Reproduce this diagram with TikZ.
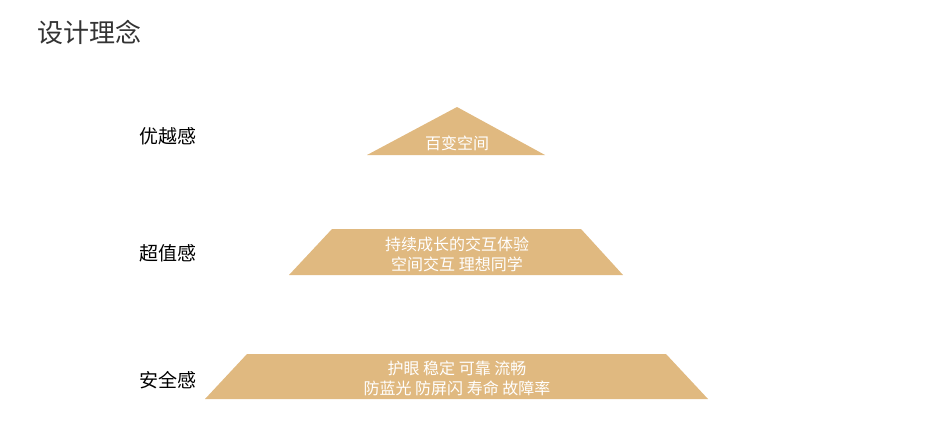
\documentclass[tikz,border=0pt]{standalone}
\usepackage{fontspec}
\newfontfamily\cjk{Noto Sans CJK SC}
\definecolor{tan}{RGB}{224,185,128}
\definecolor{titlegray}{RGB}{51,51,51}
\begin{document}
\begin{tikzpicture}[x=1pt,y=-1pt,
  tier/.style={fill=tan,draw=none},
  intext/.style={text=white,font=\cjk\fontsize{16}{20}\selectfont,align=center,inner sep=0pt},
  side/.style={text=black,font=\cjk\fontsize{19}{22}\selectfont,inner sep=0pt},
  ttl/.style={text=titlegray,font=\cjk\fontsize{26}{30}\selectfont,inner sep=0pt,anchor=west}]
\useasboundingbox (0,0) rectangle (947,431);
\node[ttl] (title) at (37,32) {设计理念};
% tiers
\path[tier] (457,107) -- (545,155) -- (367,155) -- cycle;
\path[tier] (332,229) -- (581,229) -- (623,275) -- (289,275) -- cycle;
\path[tier] (247,354) -- (666,354) -- (708,399) -- (205,399) -- cycle;
% inner texts
\node[intext] (t1) at (457,143) {百变空间};
\node[intext] (t2) at (457,254) {持续成长的交互体验\\空间交互 理想同学};
\node[intext] (t3) at (457,378) {护眼 稳定 可靠 流畅\\防蓝光 防屏闪 寿命 故障率};
% side labels
\node[side] (l1) at (168,136) {优越感};
\node[side] (l2) at (168,253) {超值感};
\node[side] (l3) at (168,380) {安全感};
\end{tikzpicture}
\end{document}
